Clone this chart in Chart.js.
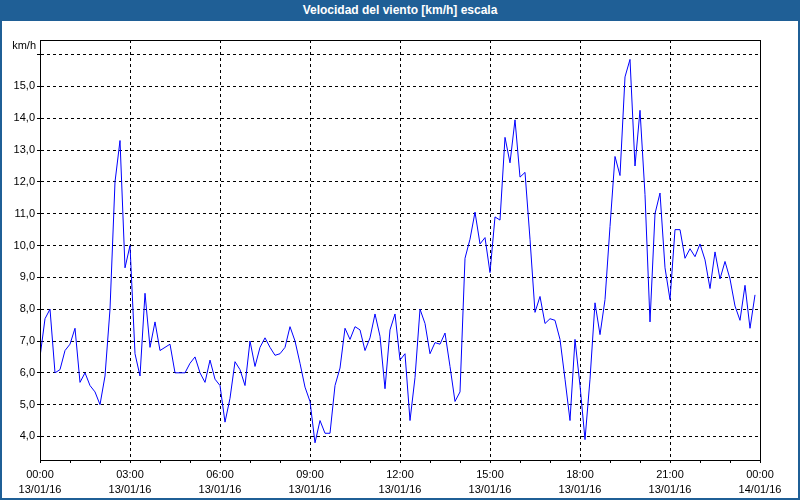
<!DOCTYPE html>
<html>
<head>
<meta charset="utf-8">
<script src="https://cdn.jsdelivr.net/npm/chart.js@4.4.1/dist/chart.umd.min.js"></script>
<style>
    body { margin: 0; background: #fff; }
    #wrap { position: relative; width: 800px; height: 500px; overflow: hidden; font-family: "Liberation Sans", Arial, sans-serif; }
    #chart { position: absolute; left: 0; top: 0; }
    #titleBar { position: absolute; left: 0; top: 0; width: 800px; height: 21px; background: #1f5f96; color: #fff;
        font-weight: bold; font-size: 12px; line-height: 21px; text-align: center; }
    #frame { position: absolute; left: 0; top: 0; width: 800px; height: 500px; box-sizing: border-box;
        border: 2px solid #1f5f96; pointer-events: none; }
    #unit { position: absolute; right: 764px; top: 39px; font-size: 11px; color: #000; }
</style>
</head>
<body>
<div id="wrap">
    <canvas id="chart" width="800" height="500"></canvas>
    <div id="titleBar">Velocidad del viento [km/h] escala</div>
    <div id="unit">km/h</div>
    <div id="frame"></div>
</div>
<script>
// wind speed, one sample every 10 minutes from 13/01/16 00:00
const sampleStep = 10;
const windSpeed = [
    6.5, 7.7, 8.0, 6.0, 6.1, 6.7, 6.9, 7.4, 5.7, 6.0, 5.6, 5.4,
    5.0, 5.9, 8.0, 12.0, 13.3, 9.3, 10.0, 6.6, 5.9, 8.5, 6.8, 7.6,
    6.7, 6.8, 6.9, 6.0, 6.0, 6.0, 6.3, 6.5, 6.0, 5.7, 6.4, 5.8,
    5.6, 4.45, 5.2, 6.35, 6.1, 5.6, 7.0, 6.2, 6.8, 7.1, 6.8, 6.55,
    6.6, 6.8, 7.45, 7.0, 6.3, 5.55, 5.1, 3.8, 4.5, 4.1, 4.1, 5.6,
    6.15, 7.4, 7.05, 7.45, 7.35, 6.7, 7.1, 7.85, 7.15, 5.5, 7.35, 7.85,
    6.4, 6.6, 4.5, 5.85, 8.0, 7.55, 6.6, 6.95, 6.9, 7.25, 6.2, 5.1,
    5.4, 9.6, 10.2, 11.05, 10.05, 10.25, 9.15, 10.9, 10.8, 13.4, 12.6, 13.95,
    12.15, 12.3, 10.2, 7.9, 8.4, 7.55, 7.7, 7.65, 7.05, 5.8, 4.5, 7.05,
    5.6, 3.9, 5.8, 8.2, 7.2, 8.3, 10.6, 12.8, 12.2, 15.3, 15.85, 12.5,
    14.25, 11.6, 7.6, 11.0, 11.65, 9.3, 8.3, 10.5, 10.5, 9.6, 9.9, 9.65,
    10.05, 9.55, 8.65, 9.8, 8.95, 9.5, 8.95, 8.1, 7.65, 8.75, 7.4, 8.45
];
const hourLabels = ['00:00', '03:00', '06:00', '09:00', '12:00', '15:00', '18:00', '21:00', '00:00'];
const dateLabels = ['13/01/16', '13/01/16', '13/01/16', '13/01/16', '13/01/16', '13/01/16', '13/01/16', '13/01/16', '14/01/16'];
const yTicks = [4, 5, 6, 7, 8, 9, 10, 11, 12, 13, 14, 15, 16];

const points = windSpeed.map((v, i) => ({ x: i * sampleStep, y: v }));

// solid frame round the plot area
const plotFrame = {
    id: 'plotFrame',
    afterDraw(chart) {
        const { ctx, chartArea: a } = chart;
        ctx.save();
        ctx.strokeStyle = '#000';
        ctx.lineWidth = 1;
        ctx.strokeRect(Math.round(a.left) + 0.5, Math.round(a.top) + 0.5,
            Math.round(a.right - a.left), Math.round(a.bottom - a.top));
        ctx.restore();
    }
};

new Chart(document.getElementById('chart'), {
    type: 'line',
    data: {
        datasets: [{
            data: points,
            borderColor: '#0000ff',
            borderWidth: 1,
            pointRadius: 0,
            tension: 0,
            fill: false
        }]
    },
    options: {
        responsive: false,
        animation: false,
        devicePixelRatio: 1,
        layout: { padding: { top: 40, right: 40, left: 0, bottom: 0 } },
        plugins: {
            legend: { display: false },
            tooltip: { enabled: false }
        },
        scales: {
            x: {
                type: 'linear',
                min: 0,
                max: 1440,
                afterFit: s => { s.height = 40; },
                ticks: {
                    stepSize: 60,
                    autoSkip: false,
                    maxRotation: 0,
                    padding: 4,
                    color: '#000',
                    font: { family: 'Liberation Sans', size: 11, lineHeight: 1.4 },
                    callback: v => v % 180 === 0 ? [hourLabels[v / 180], dateLabels[v / 180]] : ''
                },
                grid: {
                    color: c => (c.tick && c.tick.value % 180 === 0) ? '#000' : 'rgba(0,0,0,0)',
                    tickColor: '#000',
                    tickLength: 3,
                    lineWidth: 1
                },
                border: { color: '#000', dash: [3, 3] }
            },
            y: {
                min: 3.26,
                max: 16.46,
                afterFit: s => { s.width = 40; },
                afterBuildTicks: s => { s.ticks = yTicks.map(v => ({ value: v })); },
                ticks: {
                    padding: 2,
                    color: '#000',
                    font: { family: 'Liberation Sans', size: 11 },
                    callback: v => v === 16 ? '' : v.toFixed(1).replace('.', ',')
                },
                grid: {
                    color: '#000',
                    tickColor: '#000',
                    tickLength: 3,
                    lineWidth: 1
                },
                border: { color: '#000', dash: [3, 3] }
            }
        }
    },
    plugins: [plotFrame]
});
</script>
</body>
</html>
